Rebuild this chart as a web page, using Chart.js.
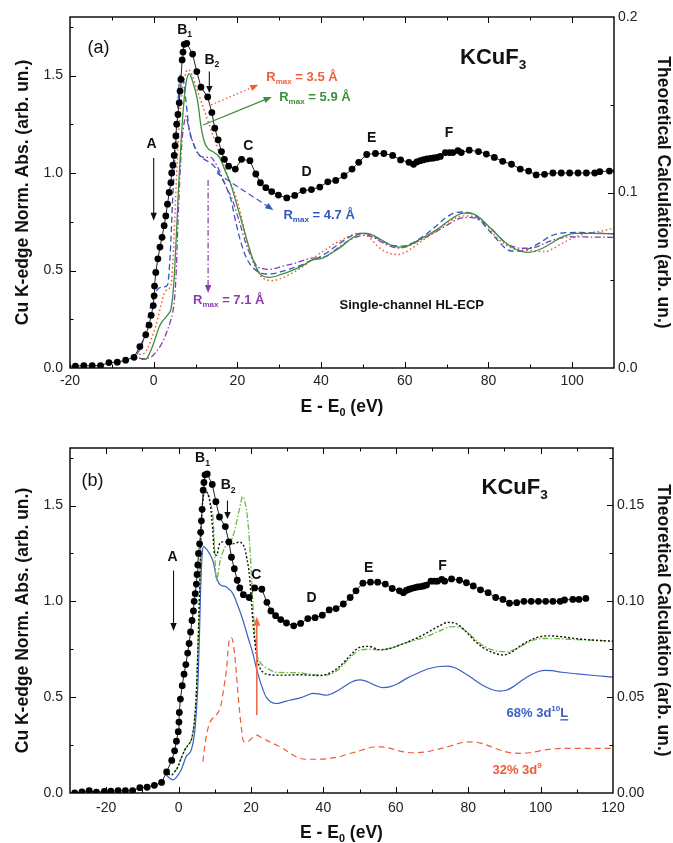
<!DOCTYPE html>
<html>
<head>
<meta charset="utf-8">
<title>KCuF3 Cu K-edge XANES</title>
<script src="https://cdn.jsdelivr.net/npm/chart.js@4.4.1/dist/chart.umd.min.js"></script>
<style>
  html, body { margin: 0; padding: 0; background: #fff; }
  #wrap { position: relative; width: 673px; height: 843px; overflow: hidden; background: #fff; }
  canvas { position: absolute; left: 0; }
  #chartA { top: 0; }
  #chartB { top: 420px; }
</style>
</head>
<body>
<div id="wrap">
  <canvas id="chartA" width="673" height="420" style="width:673px;height:420px"></canvas>
  <canvas id="chartB" width="673" height="423" style="width:673px;height:423px"></canvas>
</div>
<script>
// ---------- Measured Cu K-edge spectrum of KCuF3: [E - E0 (eV), normalized absorption] ----------
const expSpectrum = [
  [-28.7,0.0],[-26.7,0.006],[-24.7,0.012],[-22.7,0.004],[-20.5,0.008],[-18.7,0.01],[-16.7,0.012],
  [-14.7,0.012],[-12.7,0.012],[-10.7,0.028],[-8.7,0.03],[-6.7,0.04],[-4.7,0.055],[-3.3,0.11],
  [-1.9,0.17],[-1.1,0.22],[-0.6,0.27],[-0.1,0.32],[0.1,0.37],[0.2,0.42],[0.5,0.49],[1.0,0.56],
  [1.5,0.62],[2.0,0.67],[2.5,0.73],[2.9,0.78],[3.3,0.84],[3.7,0.90],[4.1,0.95],[4.3,1.0],
  [4.6,1.04],[4.9,1.09],[5.1,1.14],[5.3,1.19],[5.5,1.25],[5.8,1.30],[6.1,1.36],[6.3,1.42],
  [6.5,1.48],[6.8,1.58],[7.0,1.62],[7.3,1.66],[7.9,1.665],[9.3,1.61],[10.3,1.52],[11.3,1.44],
  [12.9,1.39],[13.9,1.31],[14.6,1.23],[15.4,1.17],[16.2,1.11],[16.9,1.07],[17.9,1.035],
  [19.5,1.02],[21.0,1.07],[23.0,1.063],[24.4,0.995],[25.5,0.95],[26.8,0.925],[28.2,0.905],
  [29.8,0.887],[31.8,0.872],[33.7,0.885],[35.7,0.91],[37.7,0.915],[39.7,0.928],[41.6,0.955],
  [43.5,0.962],[45.5,0.986],[47.4,1.02],[49.0,1.055],[50.9,1.095],[53.0,1.10],[55.0,1.10],
  [57.1,1.09],[59.0,1.067],[61.0,1.055],[62.1,1.045],[62.9,1.057],[63.7,1.063],[64.5,1.068],
  [65.3,1.072],[66.1,1.075],[66.9,1.077],[67.7,1.08],[68.5,1.085],[69.7,1.105],[70.7,1.105],
  [71.5,1.105],[72.7,1.115],[73.5,1.105],[75.4,1.117],[77.6,1.11],[79.5,1.097],[81.4,1.08],
  [83.4,1.06],[85.5,1.045],[87.6,1.02],[89.6,1.01],[91.4,0.99],[93.4,0.993],[95.4,1.0],
  [97.4,1.0],[99.4,1.0],[101.4,1.0],[103.4,1.0],[105.4,1.0],[106.6,1.007],[108.9,1.01],
  [110.6,1.01],[112.5,1.015]
];

// ---------- Panel (a): single-channel HL-ECP calculations for several cluster radii ----------
const calcR35 = [
  [-3.5,0.07],[-2.3,0.075],[-1.5,0.1],[-0.7,0.14],[0.1,0.19],[0.9,0.246],[1.7,0.32],[2.5,0.38],
  [3.3,0.405],[4.1,0.42],[4.6,0.55],[5.1,0.8],[5.6,1.05],[6.1,1.25],[6.7,1.4],[7.4,1.49],[8.1,1.53],
  [8.8,1.52],[10,1.45],[11.3,1.37],[12.9,1.27],[14.9,1.15],[16.9,1.03],[18.3,0.95],[19.3,0.9],
  [20.9,0.78],[22,0.67],[23.3,0.57],[24.5,0.51],[25.7,0.468],[27,0.452],[28.1,0.448],[30.5,0.46],
  [32,0.475],[33.7,0.494],[36,0.525],[37.7,0.554],[39.5,0.585],[41.3,0.61],[43,0.635],[45,0.658],
  [47,0.68],[49,0.69],[50.5,0.685],[52,0.66],[53.5,0.625],[55.3,0.597],[57,0.585],[58.5,0.582],
  [60,0.592],[61.7,0.614],[64,0.65],[66,0.68],[68,0.71],[70,0.742],[72,0.768],[74,0.78],[76,0.778],
  [78,0.76],[80,0.72],[81.7,0.675],[83.5,0.64],[85.7,0.614],[88,0.605],[90,0.603],[92,0.598],
  [93.7,0.597],[95.5,0.613],[97.7,0.64],[99.5,0.66],[101.7,0.68],[104,0.692],[106.5,0.70],
  [108.5,0.71],[110.5,0.72]
];
const calcR59 = [
  [-3,0.045],[-1.9,0.045],[-1.1,0.07],[-0.3,0.11],[0.5,0.16],[1.3,0.21],[2.1,0.24],[2.9,0.26],
  [3.6,0.28],[4.1,0.3],[4.6,0.38],[5.0,0.5],[5.5,0.72],[6.0,0.95],[6.6,1.18],[7.2,1.36],[7.8,1.47],
  [8.5,1.51],[9.3,1.47],[10.5,1.37],[11.3,1.24],[12.1,1.16],[13,1.125],[14.1,1.11],[15.7,1.08],
  [17.3,1.0],[18.3,0.95],[19.3,0.88],[20.9,0.76],[22.5,0.64],[24,0.54],[25.7,0.477],[27.7,0.465],
  [30.5,0.48],[33.7,0.506],[36,0.53],[37.7,0.552],[40.5,0.565],[43.3,0.6],[45,0.625],[47,0.66],
  [49,0.685],[50.5,0.692],[52.5,0.68],[54.5,0.656],[56.5,0.632],[58.5,0.62],[60.5,0.625],
  [63.3,0.656],[65.5,0.682],[68.1,0.716],[70.5,0.755],[73.7,0.793],[75.5,0.795],[76.9,0.785],
  [78.5,0.76],[80.1,0.725],[81.8,0.69],[83.3,0.656],[85,0.628],[86.5,0.609],[88,0.597],[89.7,0.593],
  [91.3,0.6],[92.9,0.614],[95,0.64],[96.9,0.665],[99,0.683],[100.9,0.69],[105,0.69],[110.5,0.688]
];
const calcR47 = [
  [-4,0.07],[-3.2,0.1],[-2.7,0.127],[-1.9,0.2],[-1.1,0.28],[-0.3,0.35],[0.5,0.39],[1.3,0.41],
  [2.3,0.415],[3.3,0.425],[3.7,0.5],[4.1,0.65],[4.5,0.85],[4.9,1.02],[5.3,1.18],[5.8,1.36],[6.3,1.5],
  [6.9,1.5],[7.7,1.37],[8.5,1.22],[9.3,1.16],[10.1,1.12],[11,1.09],[12.1,1.07],[13.7,1.05],[15,1.02],
  [16.1,0.98],[17.3,0.93],[18.5,0.86],[19.5,0.76],[20.5,0.67],[21.5,0.6],[22.5,0.55],[23.7,0.515],
  [24.9,0.494],[27.3,0.482],[29.3,0.487],[31.3,0.499],[33.3,0.513],[35.3,0.528],[37.3,0.548],
  [39.3,0.565],[41.3,0.59],[43.3,0.622],[45.3,0.652],[47.3,0.678],[49.5,0.69],[51.5,0.685],
  [53.5,0.665],[55.5,0.642],[57.5,0.627],[59.5,0.625],[61.5,0.638],[63.5,0.662],[65.5,0.692],
  [67.5,0.728],[69.5,0.765],[72,0.797],[74,0.80],[76,0.79],[78,0.76],[79.3,0.725],[81,0.685],
  [82.5,0.648],[84,0.615],[85.5,0.6],[88.1,0.6],[90,0.615],[91.3,0.63],[93,0.652],[94.5,0.673],
  [96.5,0.688],[98.5,0.694],[102,0.695],[106,0.692],[110.5,0.688]
];
const calcR71 = [
  [-3.5,0.05],[-2.5,0.048],[-1.5,0.05],[-0.5,0.058],[0.5,0.08],[1.5,0.11],[2.5,0.15],[3.3,0.195],
  [4.0,0.24],[4.5,0.28],[5.0,0.36],[5.4,0.5],[5.8,0.75],[6.3,1.0],[6.8,1.17],[7.3,1.26],[7.7,1.29],
  [8.3,1.24],[8.9,1.19],[9.7,1.14],[10.5,1.1],[11.3,1.085],[12.1,1.08],[13.7,1.08],[14.5,1.06],
  [15.3,1.03],[16.5,0.97],[17.7,0.91],[18.5,0.88],[19.3,0.83],[20.9,0.72],[22,0.64],[22.9,0.59],
  [24,0.545],[24.8,0.52],[26,0.51],[27.2,0.506],[29,0.51],[30.5,0.52],[33.7,0.537],[37.7,0.563],
  [40.9,0.57],[43,0.6],[45,0.632],[47,0.658],[49,0.675],[50.5,0.68],[52.5,0.67],[54.5,0.645],
  [56.5,0.625],[58.5,0.615],[60.5,0.623],[63,0.648],[65.5,0.675],[68,0.705],[70.5,0.738],
  [73.7,0.77],[75.5,0.772],[77.7,0.76],[79.5,0.735],[80.9,0.71],[82.5,0.675],[84.1,0.64],[86,0.622],
  [88.1,0.614],[90,0.614],[91.3,0.62],[93,0.635],[95.3,0.656],[97,0.665],[99.3,0.673],[103,0.672],
  [110.5,0.67]
];

// ---------- Panel (b): two-channel calculations ----------
const calc3d10L = [
  [-3.4,0.094],[-2.5,0.078],[-1.6,0.068],[-0.5,0.085],[0.7,0.12],[2.1,0.19],[3.5,0.224],[4.4,0.31],
  [5.0,0.45],[5.4,0.6],[5.8,0.85],[6.1,1.07],[6.5,1.24],[6.9,1.285],[7.6,1.275],[8.5,1.25],[9.5,1.21],
  [10.4,1.13],[11.1,1.095],[11.8,1.083],[13.2,1.075],[15,1.04],[16.5,0.97],[17.8,0.9],[19.2,0.81],
  [20.5,0.73],[21.5,0.65],[22.4,0.59],[23.3,0.54],[24.2,0.5],[25.5,0.475],[27,0.467],[28.8,0.474],
  [30.7,0.484],[33.4,0.495],[35.5,0.51],[37.1,0.52],[39,0.516],[40.8,0.51],[42.5,0.52],[44.5,0.54],
  [46.5,0.565],[48.5,0.585],[50.3,0.59],[52.5,0.578],[54.5,0.56],[56.5,0.55],[58.5,0.555],
  [60.5,0.57],[63,0.598],[66,0.625],[69,0.648],[72,0.66],[74.4,0.662],[76.5,0.652],[79,0.625],
  [81.5,0.594],[84,0.562],[86.5,0.54],[88.7,0.532],[90.5,0.536],[92.5,0.555],[95,0.59],[97.5,0.618],
  [99.5,0.634],[101.1,0.64],[103,0.638],[106,0.63],[110,0.622],[115,0.613],[120,0.605]
];
const calc3d9 = [
  [6.7,0.163],[7.2,0.24],[7.6,0.29],[8.3,0.35],[9.0,0.38],[9.7,0.395],[10.4,0.406],[11.2,0.43],
  [11.8,0.467],[12.5,0.55],[13.2,0.64],[13.7,0.75],[14.1,0.806],[14.6,0.81],[15.0,0.79],[15.5,0.72],
  [15.9,0.64],[16.4,0.52],[16.9,0.415],[17.4,0.33],[17.8,0.276],[18.5,0.265],[19.1,0.267],
  [20.2,0.285],[21.5,0.302],[22.8,0.29],[24.2,0.276],[26.5,0.255],[28.8,0.233],[31,0.205],
  [33.4,0.181],[35.5,0.176],[38,0.176],[41.7,0.18],[44.5,0.19],[47,0.205],[49.1,0.215],[52,0.232],
  [54,0.24],[56,0.241],[58,0.235],[60.5,0.222],[63,0.212],[65.7,0.21],[68.5,0.215],[72,0.23],
  [75,0.245],[78,0.262],[80.9,0.267],[83.5,0.26],[86.5,0.24],[89.5,0.22],[92,0.209],[94.7,0.207],
  [97.5,0.212],[100.5,0.222],[103.5,0.23],[106.2,0.233],[110,0.233],[115,0.233],[120,0.233]
];
const calcSumDotted = [
  [-3.9,0.11],[-3,0.1],[-2.0,0.094],[-1.1,0.11],[-0.2,0.137],[0.8,0.185],[1.7,0.224],[2.6,0.25],
  [3.5,0.276],[4.0,0.32],[4.4,0.38],[4.9,0.52],[5.3,0.73],[5.8,1.05],[6.3,1.42],[6.8,1.54],
  [7.2,1.575],[8.1,1.56],[8.8,1.5],[9.4,1.38],[9.9,1.25],[10.5,1.24],[11.3,1.3],[12.2,1.31],
  [13.2,1.31],[14.1,1.3],[15,1.3],[15.9,1.305],[16.9,1.31],[17.6,1.3],[18.2,1.28],[18.9,1.22],
  [19.6,1.13],[20.1,1.0],[20.5,0.9],[21,0.8],[21.5,0.72],[22.3,0.66],[23.3,0.63],[25,0.618],
  [27,0.615],[30,0.615],[33.4,0.617],[36,0.615],[39,0.613],[41.7,0.625],[44.5,0.66],[47,0.71],
  [50,0.76],[52.5,0.765],[55.5,0.748],[58.5,0.755],[62.9,0.785],[66,0.81],[69,0.84],[72,0.872],
  [74.4,0.89],[76.5,0.885],[79,0.85],[81.5,0.8],[84,0.76],[86.5,0.735],[89.6,0.72],[92,0.735],
  [95,0.775],[98.8,0.81],[102,0.82],[106,0.815],[110,0.805],[115,0.797],[120,0.792]
];
const calcSumDashDot = [
  [-3.9,0.11],[-3,0.1],[-2.0,0.094],[-1.1,0.11],[-0.2,0.137],[0.8,0.185],[1.7,0.224],[2.6,0.25],
  [3.5,0.276],[4.0,0.32],[4.4,0.38],[4.9,0.52],[5.3,0.73],[5.8,1.05],[6.3,1.42],[6.8,1.54],
  [7.2,1.57],[8.1,1.56],[8.8,1.51],[9.5,1.44],[10.0,1.25],[10.4,1.11],[10.9,1.14],[11.3,1.196],
  [12,1.245],[12.7,1.28],[13.4,1.295],[14.1,1.30],[14.8,1.33],[15.5,1.37],[16.2,1.43],[16.9,1.49],
  [17.5,1.54],[17.8,1.547],[18.3,1.52],[18.9,1.457],[19.4,1.36],[19.8,1.25],[20.2,1.11],[20.5,0.99],
  [21.0,0.85],[21.5,0.745],[22.3,0.69],[23.3,0.665],[25,0.645],[27,0.63],[30,0.628],[33.4,0.627],
  [36,0.62],[39,0.615],[41.7,0.618],[44.5,0.65],[47,0.7],[50,0.745],[52.5,0.75],[55.5,0.745],
  [58.5,0.755],[62.9,0.785],[66,0.8],[69,0.82],[72,0.845],[75.8,0.868],[78,0.862],[80,0.835],
  [82.2,0.797],[84.5,0.765],[87,0.745],[90.5,0.736],[93,0.75],[95.5,0.775],[98,0.797],[100.6,0.806],
  [105,0.805],[110,0.8],[115,0.797],[120,0.792]
];

// ---------- Tick labels ----------
const xTicksA = [-20, 0, 20, 40, 60, 80, 100];
const xTicksB = [-20, 0, 20, 40, 60, 80, 100, 120];
const yTicks = [0, 0.5, 1.0, 1.5];
const y2TicksA = [0, 0.1, 0.2];
const y2TicksB = [0, 0.05, 0.10, 0.15];

const FONT = '"Liberation Sans", Arial, Helvetica, sans-serif';
const INK = '#111';

// ---------- Rich text: _{sub}, ^{sup}, ~{underlined} ----------
function parseRich(s) {
  const out = [];
  let i = 0;
  const isMark = k => (s[k] === '_' || s[k] === '^' || s[k] === '~') && s[k + 1] === '{';
  while (i < s.length) {
    if (isMark(i)) {
      const j = s.indexOf('}', i);
      out.push({ t: s.slice(i + 2, j), m: s[i] });
      i = j + 1;
    } else {
      let j = i;
      while (j < s.length && !isMark(j)) j++;
      out.push({ t: s.slice(i, j), m: '' });
      i = j;
    }
  }
  return out;
}
function drawRich(ctx, str, x, y, o) {
  const size = o.size || 14;
  const weight = o.weight || 'bold';
  const parts = parseRich(str);
  let total = 0;
  parts.forEach(p => {
    p.sz = (p.m === '_' || p.m === '^') ? size * 0.62 : size;
    ctx.font = `${weight} ${p.sz}px ${FONT}`;
    p.w = ctx.measureText(p.t).width;
    total += p.w;
  });
  let cx = o.align === 'center' ? x - total / 2 : x;
  ctx.save();
  ctx.fillStyle = o.color || INK;
  ctx.strokeStyle = o.color || INK;
  ctx.textBaseline = 'middle';
  ctx.textAlign = 'left';
  parts.forEach(p => {
    ctx.font = `${weight} ${p.sz}px ${FONT}`;
    const dy = p.m === '_' ? size * 0.34 : (p.m === '^' ? -size * 0.36 : 0);
    ctx.fillText(p.t, cx, y + dy);
    if (p.m === '~') {
      ctx.lineWidth = 1.4;
      ctx.beginPath();
      ctx.moveTo(cx, y + size * 0.52);
      ctx.lineTo(cx + p.w, y + size * 0.52);
      ctx.stroke();
    }
    cx += p.w;
  });
  ctx.restore();
}
function drawArrow(ctx, x1, y1, x2, y2, o) {
  const ang = Math.atan2(y2 - y1, x2 - x1);
  const hl = o.head || 8, hw = o.headW || 3.2;
  ctx.save();
  ctx.strokeStyle = o.color;
  ctx.fillStyle = o.color;
  ctx.lineWidth = o.width || 1.2;
  ctx.setLineDash(o.dash || []);
  ctx.beginPath();
  ctx.moveTo(x1, y1);
  ctx.lineTo(x2 - Math.cos(ang) * hl * 0.8, y2 - Math.sin(ang) * hl * 0.8);
  ctx.stroke();
  ctx.setLineDash([]);
  ctx.beginPath();
  ctx.moveTo(x2, y2);
  ctx.lineTo(x2 - Math.cos(ang) * hl + Math.sin(ang) * hw, y2 - Math.sin(ang) * hl - Math.cos(ang) * hw);
  ctx.lineTo(x2 - Math.cos(ang) * hl - Math.sin(ang) * hw, y2 - Math.sin(ang) * hl + Math.cos(ang) * hw);
  ctx.closePath();
  ctx.fill();
  ctx.restore();
}

// ---------- Axis frame, inward ticks, titles and annotations ----------
const decorPlugin = {
  id: 'decor',
  afterDatasetsDraw(chart, args, opts) {
    const ctx = chart.ctx;
    const { left, right, top, bottom } = chart.chartArea;
    const xs = chart.scales.x, ys = chart.scales.y, y2 = chart.scales.y2;
    ctx.save();
    ctx.strokeStyle = '#000';
    ctx.lineWidth = 1;
    const majorL = 6, minorL = 3.5;
    // x ticks (bottom and top)
    for (let v = opts.xMinorStart; v <= xs.max + 1e-9; v += opts.xMinor) {
      const isMajor = opts.xTicks.some(t => Math.abs(t - v) < 1e-6);
      const len = isMajor ? majorL : minorL;
      const px = Math.round(xs.getPixelForValue(v)) + 0.5;
      if (px < left + 1 || px > right - 1) continue;
      ctx.beginPath();
      ctx.moveTo(px, bottom); ctx.lineTo(px, bottom - len);
      ctx.moveTo(px, top); ctx.lineTo(px, top + len);
      ctx.stroke();
    }
    // left y ticks
    for (let v = 0; v <= ys.max + 1e-9; v += 0.25) {
      const isMajor = Math.abs(v * 2 - Math.round(v * 2)) < 1e-6;
      const py = Math.round(ys.getPixelForValue(v)) + 0.5;
      if (py < top + 1 || py > bottom - 1) continue;
      ctx.beginPath();
      ctx.moveTo(left, py); ctx.lineTo(left + (isMajor ? majorL : minorL), py);
      ctx.stroke();
    }
    // right y ticks
    for (let k = 0; k * opts.y2Minor <= y2.max + 1e-9; k++) {
      const v = k * opts.y2Minor;
      const isMajor = k % 2 === 0;
      const py = Math.round(y2.getPixelForValue(v)) + 0.5;
      if (py < top + 1 || py > bottom - 1) continue;
      ctx.beginPath();
      ctx.moveTo(right, py); ctx.lineTo(right - (isMajor ? majorL : minorL), py);
      ctx.stroke();
    }
    // frame
    ctx.lineWidth = 1.4;
    ctx.strokeRect(left, top, right - left, bottom - top);
    ctx.restore();

    // axis titles
    const midY = (top + bottom) / 2;
    ctx.save();
    ctx.translate(opts.yTitleX, midY);
    ctx.rotate(-Math.PI / 2);
    drawRich(ctx, 'Cu K-edge Norm. Abs. (arb. un.)', 0, 0, { size: 17.5, align: 'center' });
    ctx.restore();
    ctx.save();
    ctx.translate(opts.y2TitleX, midY);
    ctx.rotate(Math.PI / 2);
    drawRich(ctx, 'Theoretical Calculation (arb. un.)', 0, 0, { size: 17.5, align: 'center' });
    ctx.restore();
    drawRich(ctx, 'E - E_{0} (eV)', (left + right) / 2, bottom + opts.xTitleDy, { size: 17.5, align: 'center' });

    // text annotations (positions in data units)
    opts.texts.forEach(t => {
      drawRich(ctx, t.s, xs.getPixelForValue(t.x), ys.getPixelForValue(t.y),
        { size: t.size, weight: t.weight, color: t.color, align: t.align });
    });
    // arrows (positions in data units)
    opts.arrows.forEach(a => {
      drawArrow(ctx, xs.getPixelForValue(a.x1), ys.getPixelForValue(a.y1),
        xs.getPixelForValue(a.x2), ys.getPixelForValue(a.y2), a);
    });
  }
};

function toXY(arr) { return arr.map(p => ({ x: p[0], y: p[1] })); }

function expDataset() {
  return {
    data: toXY(expSpectrum), borderColor: '#222', borderWidth: 1,
    pointRadius: 3.4, pointBackgroundColor: '#000', pointBorderColor: '#000', pointBorderWidth: 0,
    tension: 0
  };
}
function calcDataset(arr, color, dash, width) {
  return {
    data: toXY(arr), borderColor: color, borderWidth: width || 1.3, borderDash: dash,
    pointRadius: 0, cubicInterpolationMode: 'monotone', fill: false
  };
}

function makeScales(p) {
  const tickFont = { size: 14, family: FONT };
  return {
    x: {
      type: 'linear', position: 'bottom', min: p.xMin, max: p.xMax,
      grid: { display: false, drawTicks: false }, border: { display: false },
      ticks: { padding: p.xPad, color: '#222', font: tickFont, autoSkip: false, maxRotation: 0 },
      afterBuildTicks: s => { s.ticks = p.xTicks.map(v => ({ value: v })); },
      afterFit: s => { s.height = p.xH; }
    },
    y: {
      type: 'linear', position: 'left', min: 0, max: p.yMax,
      grid: { display: false, drawTicks: false }, border: { display: false },
      ticks: { padding: 7, color: '#222', font: tickFont, autoSkip: false, callback: v => v.toFixed(1) },
      afterBuildTicks: s => { s.ticks = yTicks.map(v => ({ value: v })); },
      afterFit: s => { s.width = 70; }
    },
    y2: {
      type: 'linear', position: 'right', min: 0, max: p.y2Max,
      grid: { display: false, drawTicks: false }, border: { display: false },
      ticks: { padding: 4, color: '#222', font: tickFont, autoSkip: false, callback: v => v.toFixed(p.y2Dec) },
      afterBuildTicks: s => { s.ticks = p.y2Ticks.map(v => ({ value: v })); },
      afterFit: s => { s.width = p.y2W; }
    }
  };
}

function makeChart(id, p, datasets, decor) {
  return new Chart(document.getElementById(id), {
    type: 'line',
    data: { datasets },
    options: {
      responsive: false, animation: false, devicePixelRatio: 1,
      parsing: true, normalized: true,
      layout: { padding: { top: p.padTop, left: 0, right: 0, bottom: 0 } },
      plugins: { legend: { display: false }, tooltip: { enabled: false }, decor },
      scales: makeScales(p)
    },
    plugins: [decorPlugin]
  });
}

// ---------- Panel (a) ----------
const RED_A = '#f0603a', GREEN_A = '#3d8f3d', BLUE_A = '#3458bd', PURPLE_A = '#8a3cae';
makeChart('chartA',
  { xMin: -20, xMax: 110, xTicks: xTicksA, xPad: 5, xH: 52, yMax: 1.8,
    y2Max: 0.2, y2Ticks: y2TicksA, y2Dec: 1, y2W: 59, padTop: 17 },
  [
    expDataset(),
    calcDataset(calcR59, GREEN_A, [], 1.3),
    calcDataset(calcR47, BLUE_A, [6, 3.5], 1.3),
    calcDataset(calcR35, RED_A, [1.6, 2.6], 1.5),
    calcDataset(calcR71, PURPLE_A, [6, 2.5, 1.5, 2.5], 1.3)
  ],
  {
    xTicks: xTicksA, xMinor: 10, xMinorStart: -20, y2Minor: 0.05,
    yTitleX: 23, y2TitleX: 663, xTitleDy: 39,
    texts: [
      { s: '(a)', x: -13.2, y: 1.64, size: 18, weight: 'normal', align: 'center' },
      { s: 'B_{1}', x: 7.4, y: 1.735, size: 14, align: 'center' },
      { s: 'B_{2}', x: 13.9, y: 1.58, size: 14, align: 'center' },
      { s: 'A', x: -0.5, y: 1.15, size: 14, align: 'center' },
      { s: 'C', x: 22.6, y: 1.14, size: 14, align: 'center' },
      { s: 'D', x: 36.5, y: 1.005, size: 14, align: 'center' },
      { s: 'E', x: 52.1, y: 1.18, size: 14, align: 'center' },
      { s: 'F', x: 70.6, y: 1.205, size: 14, align: 'center' },
      { s: 'KCuF_{3}', x: 73.2, y: 1.59, size: 22 },
      { s: 'Single-channel HL-ECP', x: 44.4, y: 0.323, size: 13 },
      { s: 'R_{max} = 3.5 Å', x: 26.9, y: 1.492, size: 13, color: RED_A },
      { s: 'R_{max} = 5.9 Å', x: 30.0, y: 1.39, size: 13, color: GREEN_A },
      { s: 'R_{max} = 4.7 Å', x: 31.0, y: 0.785, size: 13, color: BLUE_A },
      { s: 'R_{max} = 7.1 Å', x: 9.4, y: 0.349, size: 13, color: PURPLE_A }
    ],
    arrows: [
      { x1: 0, y1: 1.077, x2: 0, y2: 0.755, color: INK, width: 1.1 },
      { x1: 13.3, y1: 1.52, x2: 13.3, y2: 1.41, color: INK, width: 1.1, head: 7 },
      { x1: 13.7, y1: 1.349, x2: 25.0, y2: 1.452, color: RED_A, dash: [1.6, 2.4], width: 1.3 },
      { x1: 11.8, y1: 1.246, x2: 28.2, y2: 1.39, color: GREEN_A, width: 1.2 },
      { x1: 15.1, y1: 1.0, x2: 28.6, y2: 0.81, color: BLUE_A, dash: [6, 3.5], width: 1.2 },
      { x1: 13.0, y1: 0.964, x2: 13.0, y2: 0.385, color: PURPLE_A, dash: [6, 2.5, 1.5, 2.5], width: 1.2 }
    ]
  }
);

// ---------- Panel (b) ----------
const BLUE_B = '#3a60c4', RED_B = '#f05a38', GREEN_B = '#6cbb3c';
makeChart('chartB',
  { xMin: -30, xMax: 120, xTicks: xTicksB, xPad: 7, xH: 50, yMax: 1.8,
    y2Max: 0.18, y2Ticks: y2TicksB, y2Dec: 2, y2W: 60, padTop: 28 },
  [
    expDataset(),
    calcDataset(calcSumDotted, '#111', [2, 2], 1.4),
    calcDataset(calcSumDashDot, GREEN_B, [6, 2, 1.5, 2], 1.3),
    calcDataset(calc3d10L, BLUE_B, [], 1.2),
    calcDataset(calc3d9, RED_B, [6, 4], 1.2)
  ],
  {
    xTicks: xTicksB, xMinor: 10, xMinorStart: -30, y2Minor: 0.025,
    yTitleX: 23, y2TitleX: 663, xTitleDy: 40,
    texts: [
      { s: '(b)', x: -23.8, y: 1.63, size: 18, weight: 'normal', align: 'center' },
      { s: 'B_{1}', x: 6.6, y: 1.745, size: 14, align: 'center' },
      { s: 'B_{2}', x: 13.7, y: 1.604, size: 14, align: 'center' },
      { s: 'A', x: -1.7, y: 1.229, size: 14, align: 'center' },
      { s: 'C', x: 21.5, y: 1.135, size: 14, align: 'center' },
      { s: 'D', x: 36.7, y: 1.016, size: 14, align: 'center' },
      { s: 'E', x: 52.5, y: 1.172, size: 14, align: 'center' },
      { s: 'F', x: 72.9, y: 1.182, size: 14, align: 'center' },
      { s: 'KCuF_{3}', x: 83.7, y: 1.594, size: 22 },
      { s: '68% 3d^{10}~{L}', x: 90.6, y: 0.417, size: 13, color: BLUE_B },
      { s: '32% 3d^{9}', x: 86.7, y: 0.12, size: 13, color: RED_B }
    ],
    arrows: [
      { x1: -1.4, y1: 1.161, x2: -1.4, y2: 0.845, color: INK, width: 1.1 },
      { x1: 13.5, y1: 1.526, x2: 13.5, y2: 1.43, color: INK, width: 1.1, head: 7 },
      { x1: 21.6, y1: 0.406, x2: 21.6, y2: 0.92, color: '#f26a4a', width: 1.6, head: 9, headW: 3.6 }
    ]
  }
);
</script>
</body>
</html>
